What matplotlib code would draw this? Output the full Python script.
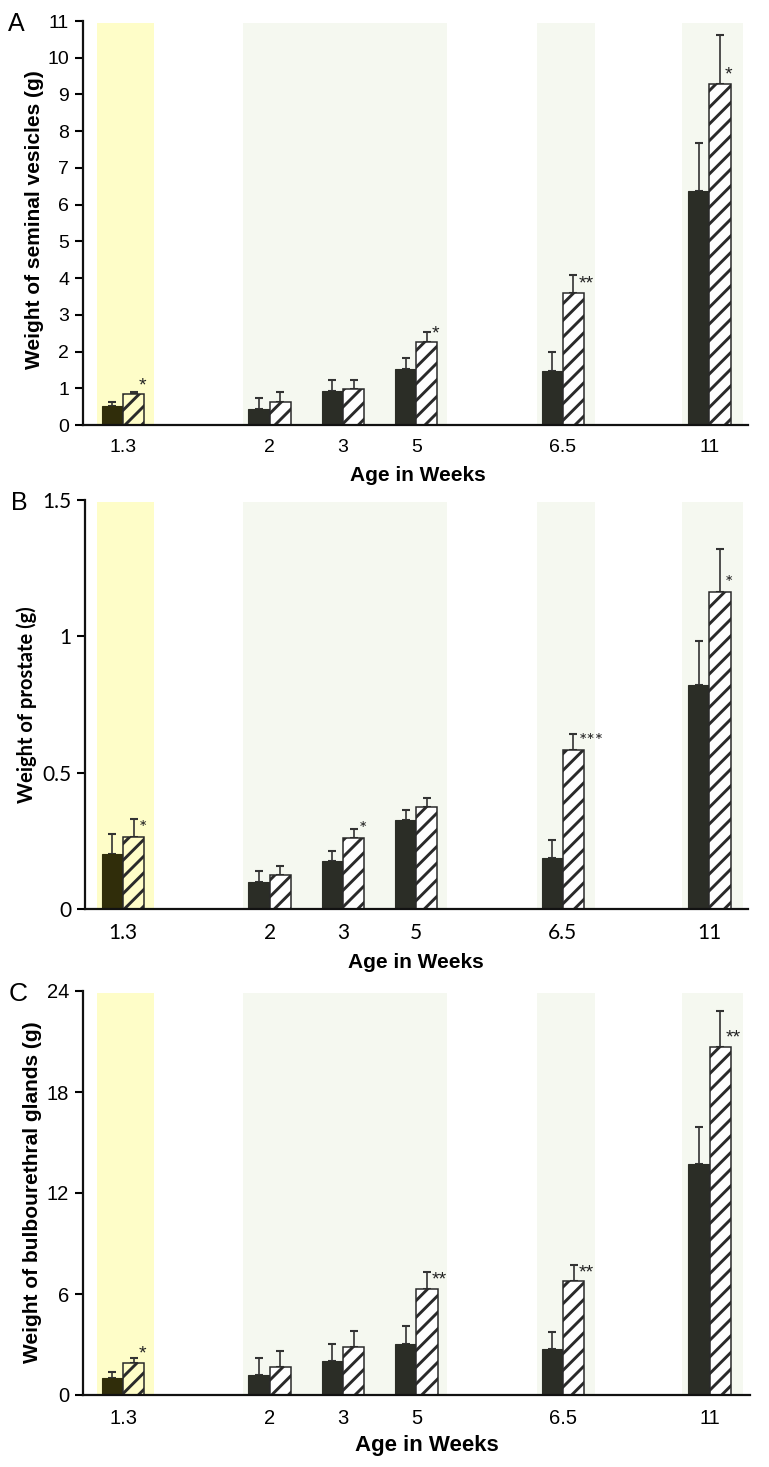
import matplotlib
matplotlib.use("Agg")
import matplotlib.pyplot as plt
import numpy as np

# ==========================================
# Data
# ==========================================
weeks = ["1.3", "2", "3", "5", "6.5", "11"]

# A - seminal vesicles (g)
sv_ctrl = [0.51, 0.44, 0.92, 1.52, 1.46, 6.37]
sv_ctrl_err = [0.11, 0.30, 0.30, 0.31, 0.52, 1.31]
sv_trt = [0.84, 0.63, 0.97, 2.25, 3.60, 9.29]
sv_trt_err = [0.06, 0.28, 0.26, 0.27, 0.49, 1.33]
sv_stars = ["*", "", "", "*", "**", "*"]

# B - prostate (g)
pr_ctrl = [0.200, 0.099, 0.176, 0.326, 0.188, 0.823]
pr_ctrl_err = [0.074, 0.040, 0.037, 0.038, 0.064, 0.159]
pr_trt = [0.263, 0.123, 0.259, 0.374, 0.582, 1.161]
pr_trt_err = [0.068, 0.035, 0.033, 0.033, 0.060, 0.160]
pr_stars = ["*", "", "*", "", "***", "*"]

# C - bulbourethral glands (g)
bu_ctrl = [0.99, 1.19, 2.04, 3.04, 2.71, 13.75]
bu_ctrl_err = [0.35, 1.02, 1.00, 1.05, 1.04, 2.16]
bu_trt = [1.92, 1.68, 2.83, 6.32, 6.76, 20.69]
bu_trt_err = [0.29, 0.95, 0.96, 0.99, 0.99, 2.14]
bu_stars = ["*", "", "", "**", "**", "**"]

# ==========================================
# Layout / style
# ==========================================
slot = np.array([0, 2, 3, 4, 6, 8])   # category slots (gaps between groups)
bw = 0.29
DARK = "#2b2d26"
ARIAL = ["Liberation Sans", "DejaVu Sans"]
NARROW = ["Liberation Sans Narrow", "Liberation Sans", "DejaVu Sans"]
CALIBRI = ["Lato", "Liberation Sans", "DejaVu Sans"]

plt.rcParams["hatch.linewidth"] = 2.1
plt.rcParams["hatch.color"] = "#262626"

W, H = 769, 1467
fig = plt.figure(figsize=(W / 100, H / 100), dpi=100)


def px_axes(left, top, right, bottom):
    return fig.add_axes([left / W, 1 - bottom / H, (right - left) / W, (bottom - top) / H])


def panel(ax, ctrl, ctrl_err, trt, trt_err, stars, ymax, yticks, yticklabels,
          xlim, tickfont, tick_size, xtick_size, star_font):
    # shaded age bands
    ax.axvspan(-0.35, 0.42, ymin=0, ymax=0.995, color="#fefdc8", lw=0, zorder=0)
    for a, b in [(1.64, 4.42), (5.65, 6.44), (7.62, 8.46)]:
        ax.axvspan(a, b, ymin=0, ymax=0.995, color="#f5f8f0", lw=0, zorder=0)

    dark_cols = ["#302d0a"] + [DARK] * 5
    hatch_face = ["#fffdc8"] + ["white"] * 5

    ax.bar(slot - bw / 2, ctrl, bw, color=dark_cols, edgecolor=dark_cols,
           linewidth=0.8, zorder=2)
    ax.bar(slot + bw / 2, trt, bw, color=hatch_face, edgecolor="#2a2a2a",
           hatch="//", linewidth=1.1, zorder=2)

    ekw = dict(fmt="none", ecolor="#333333", elinewidth=1.2, capsize=3,
               capthick=1.5, zorder=1)
    ax.errorbar(slot - bw / 2, ctrl, yerr=[np.zeros(len(ctrl)), ctrl_err], **ekw)
    ax.errorbar(slot + bw / 2, trt, yerr=[np.zeros(len(trt)), trt_err], **ekw)

    for x, y, s in zip(slot + bw / 2, trt, stars):
        if s:
            ax.text(x + 0.07, y, s, ha="left", va="bottom", fontsize=14,
                    family=star_font, color="#222222", zorder=3)

    ax.set_xlim(*xlim)
    ax.set_ylim(0, ymax)
    ax.set_yticks(yticks)
    ax.set_yticklabels(yticklabels, family=tickfont, fontsize=tick_size)
    ax.set_xticks(slot)
    ax.set_xticklabels(weeks, family=tickfont, fontsize=xtick_size)
    ax.tick_params(axis="x", length=0, pad=10)
    ax.tick_params(axis="y", length=6, width=1.5, direction="out", pad=4)
    for sp in ["top", "right"]:
        ax.spines[sp].set_visible(False)
    for sp in ["left", "bottom"]:
        ax.spines[sp].set_linewidth(1.6)
        ax.spines[sp].set_color("#111111")
        ax.spines[sp].set_zorder(4)
    ax.set_facecolor("none")


# ---- A ----
axA = px_axes(83, 21, 748, 425)
panel(axA, sv_ctrl, sv_ctrl_err, sv_trt, sv_trt_err, sv_stars, 11,
      range(0, 12), [str(v) for v in range(0, 12)], (-0.546, 8.527),
      ARIAL, 14, 14, ARIAL)
fig.text(35 / W, 1 - 220 / H, "Weight of seminal vesicles (g)", rotation=90,
         ha="center", va="center", fontsize=15, fontweight="bold", family=ARIAL)
fig.text(418 / W, 1 - 475 / H, "Age in Weeks", ha="center", va="center",
         fontsize=15, fontweight="bold", family=ARIAL)
fig.text(16 / W, 1 - 24 / H, "A", ha="center", va="center", fontsize=18, family=ARIAL)

# ---- B ----
axB = px_axes(85, 500, 748, 909)
panel(axB, pr_ctrl, pr_ctrl_err, pr_trt, pr_trt_err, pr_stars, 1.5,
      [0, 0.5, 1, 1.5], ["0", "0.5", "1", "1.5"], (-0.52, 8.527),
      CALIBRI, 15, 15, CALIBRI)
fig.text(27 / W, 1 - 705 / H, "Weight of prostate (g)", rotation=90,
         ha="center", va="center", fontsize=14.5, fontweight="bold", family=CALIBRI)
fig.text(416 / W, 1 - 962 / H, "Age in Weeks", ha="center", va="center",
         fontsize=15, fontweight="bold", family=ARIAL)
fig.text(19 / W, 1 - 503 / H, "B", ha="center", va="center", fontsize=18, family=ARIAL)

# ---- C ----
axC = px_axes(83, 991, 750, 1395)
panel(axC, bu_ctrl, bu_ctrl_err, bu_trt, bu_trt_err, bu_stars, 24,
      [0, 6, 12, 18, 24], ["0", "6", "12", "18", "24"], (-0.546, 8.55),
      NARROW, 14.5, 14.5, ARIAL)
fig.text(33 / W, 1 - 1192 / H, "Weight of bulbourethral glands (g)", rotation=90,
         ha="center", va="center", fontsize=15, fontweight="bold", family=ARIAL)
fig.text(427 / W, 1 - 1446 / H, "Age in Weeks", ha="center", va="center",
         fontsize=16, fontweight="bold", family=NARROW)
fig.text(18 / W, 1 - 994 / H, "C", ha="center", va="center", fontsize=19, family=ARIAL)

fig.savefig("out.png", dpi=100)
